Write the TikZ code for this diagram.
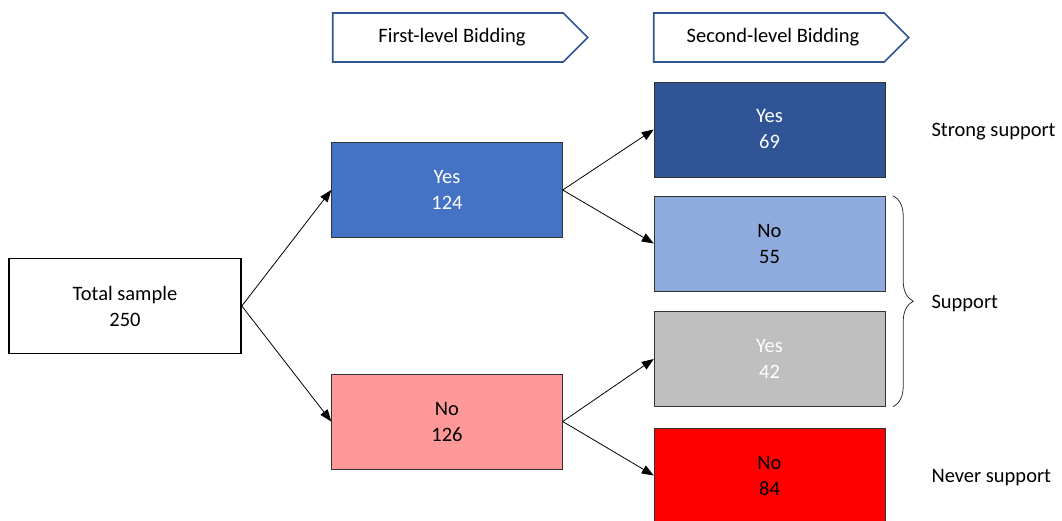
\documentclass[tikz,border=0pt]{standalone}
\usepackage{fontspec}
\setmainfont{Carlito}
\usetikzlibrary{arrows.meta,shapes.symbols,decorations.pathreplacing}

\definecolor{midblue}{HTML}{4472C4}
\definecolor{darkblue}{HTML}{2F5597}
\definecolor{lightblue}{HTML}{8FAADC}
\definecolor{lightgrey}{HTML}{BFBFBF}
\definecolor{pinkred}{HTML}{FF9999}
\definecolor{brightred}{HTML}{FF0000}
\definecolor{headblue}{HTML}{2F5597}

\begin{document}
\begin{tikzpicture}[x=1pt, y=-1pt,
        font=\fontsize{20.5}{26}\selectfont,
        box/.style={draw=black!80, rectangle, minimum width=231pt, minimum height=95pt, inner sep=0pt, align=center},
        stage/.style={draw=headblue, line width=1.6pt, signal, signal to=east, signal pointer angle=90, minimum width=255pt, minimum height=49pt, inner sep=0pt},
        arrow/.style={-{Triangle[length=12pt, width=9pt]}, black, line width=0.8pt}]
    \useasboundingbox (0,0) rectangle (1062,521);

        \node[stage] (stage1) at (448,37.5) {\hspace*{8pt}First-level Bidding};
        \node[stage] (stage2) at (769,37.5) {\hspace*{8pt}Second-level Bidding};

        \node[box, draw=black, line width=1.6pt, minimum width=232pt] (total) at (125,306) {Total sample\\250};
        \node[box, fill=midblue, text=white] (yes1) at (447,190) {Yes\\124};
        \node[box, fill=pinkred] (no1) at (447,421.5) {No\\126};
        \node[box, fill=darkblue, text=white] (yesyes) at (769.5,129.5) {Yes\\69};
        \node[box, fill=lightblue] (yesno) at (769.5,243.5) {No\\55};
        \node[box, fill=lightgrey, text=white] (noyes) at (769.5,359) {Yes\\42};
        \node[box, fill=brightred] (nono) at (769.5,475.5) {No\\84};

        \node[anchor=west] (strong) at (928,132) {Strong support};
        \node[anchor=west] (support) at (928,303) {Support};
        \node[anchor=west] (never) at (928,478) {Never support};

        \draw[arrow] (total.east) -- (yes1.west);
        \draw[arrow] (total.east) -- (no1.west);
        \draw[arrow] (yes1.east) -- (yesyes.west);
        \draw[arrow] (yes1.east) -- (yesno.west);
        \draw[arrow] (no1.east) -- (noyes.west);
        \draw[arrow] (no1.east) -- (nono.west);

        \draw[black!80, line width=0.8pt, decorate, decoration={brace, amplitude=20pt}] ([xshift=8pt]yesno.north east) -- ([xshift=8pt]noyes.south east);
\end{tikzpicture}
\end{document}
